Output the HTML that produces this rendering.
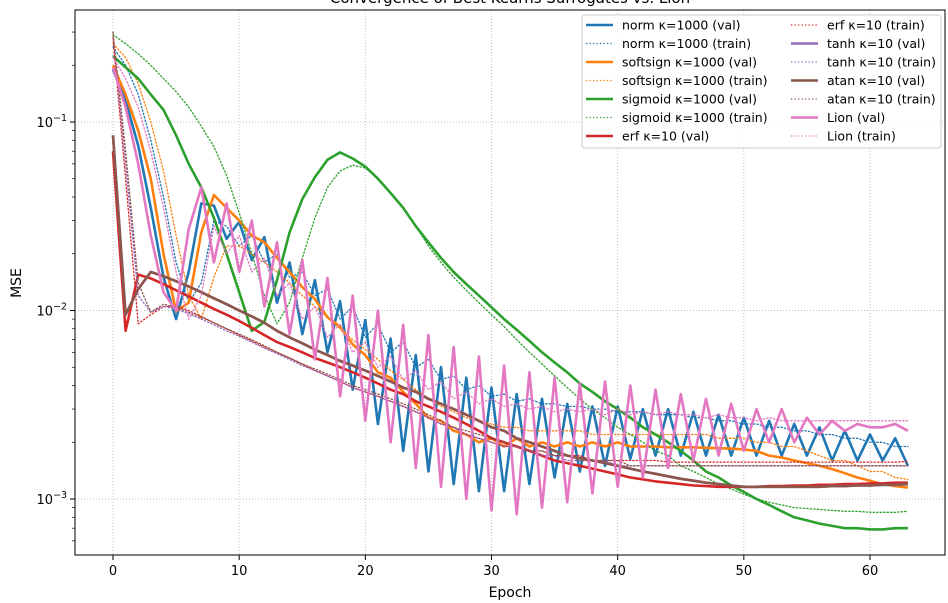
<!DOCTYPE html>
<html><head><meta charset="utf-8"><style>
html,body{margin:0;padding:0;background:#fff;}
svg{display:block;font-family:"DejaVu Sans","Liberation Sans",sans-serif;}
</style></head><body>
<svg id="chart" width="948" height="603" viewBox="0 0 948 603" xmlns="http://www.w3.org/2000/svg">
<text x="510" y="3" font-size="15" text-anchor="middle" fill="#000">Convergence of Best Kearns Surrogates vs. Lion</text>
<g id="grid"></g>
<g id="series"></g>
<rect x="75" y="10" width="870" height="545" fill="none" stroke="#000" stroke-width="1"/>
<g id="axes"></g>
<text x="510" y="597" font-size="14" text-anchor="middle">Epoch</text>
<text x="0" y="0" font-size="14" text-anchor="middle" transform="translate(21,283) rotate(-90)">MSE</text>
<g id="legend"></g>
</svg>
<script>
const epochs = Array.from({length:64},(_, i)=>i);
const xTicks = [0,10,20,30,40,50,60];
const yTickExps = [-1,-2,-3];
const normVal = [0.19,0.13,0.075,0.035,0.015,0.009,0.016,0.037,0.036,0.024,0.0295,0.0185,0.0245,0.011,0.018,0.0075,0.0145,0.006,0.0112,0.0038,0.0089,0.0025,0.0071,0.0018,0.0058,0.0014,0.005,0.0012,0.0044,0.0011,0.0039,0.0011,0.0036,0.0012,0.0034,0.0013,0.0032,0.0014,0.0031,0.0015,0.0031,0.00163,0.003,0.0017,0.003,0.0017,0.0029,0.0017,0.0028,0.0017,0.0027,0.0017,0.0026,0.0017,0.0025,0.0017,0.0024,0.0016,0.0023,0.0016,0.0022,0.0016,0.0021,0.0015];
const normTrain = [0.25,0.2,0.14,0.08,0.04,0.018,0.011,0.014,0.03,0.028,0.022,0.025,0.018,0.02,0.015,0.016,0.012,0.013,0.009,0.0105,0.0072,0.0085,0.006,0.0068,0.005,0.0055,0.0043,0.0045,0.0038,0.004,0.0035,0.0036,0.0033,0.0034,0.0032,0.0032,0.0031,0.0031,0.003,0.003,0.0029,0.0029,0.0029,0.0028,0.0028,0.0028,0.0027,0.0027,0.0026,0.0026,0.0025,0.0025,0.0024,0.0024,0.0023,0.0023,0.0022,0.0022,0.0021,0.0021,0.002,0.002,0.0019,0.0019];
const softsignVal = [0.2,0.14,0.09,0.05,0.02,0.0099,0.011,0.026,0.041,0.035,0.03,0.025,0.023,0.019,0.016,0.0133,0.0115,0.0092,0.0082,0.0066,0.0058,0.0047,0.0044,0.0037,0.0032,0.0027,0.0026,0.0023,0.0022,0.002,0.0021,0.0019,0.0021,0.0019,0.002,0.0019,0.002,0.0019,0.002,0.0019,0.002,0.0019,0.0019,0.0019,0.00188,0.00188,0.00188,0.00187,0.00186,0.00185,0.00183,0.0018,0.0017,0.00166,0.0016,0.00155,0.0015,0.00144,0.00137,0.0013,0.00125,0.0012,0.00117,0.00115];
const softsignTrain = [0.26,0.22,0.16,0.1,0.055,0.025,0.012,0.009,0.015,0.022,0.022,0.02,0.018,0.016,0.014,0.012,0.0105,0.0092,0.008,0.007,0.0062,0.0055,0.0048,0.0043,0.0038,0.0034,0.0031,0.0029,0.0027,0.0026,0.0025,0.0024,0.0024,0.0023,0.0023,0.0023,0.0023,0.0023,0.0022,0.0022,0.0022,0.0022,0.0022,0.0022,0.0022,0.0022,0.0022,0.0022,0.0021,0.0021,0.0021,0.002,0.002,0.0019,0.0019,0.0018,0.0017,0.0016,0.0016,0.0015,0.0014,0.0014,0.0013,0.00127];
const sigmoidVal = [0.224,0.195,0.17,0.14,0.116,0.085,0.06,0.045,0.031,0.02,0.0125,0.0078,0.0087,0.0145,0.026,0.039,0.051,0.063,0.069,0.064,0.058,0.05,0.042,0.035,0.028,0.023,0.019,0.016,0.0138,0.012,0.0104,0.009,0.0079,0.0069,0.006,0.0053,0.0047,0.0041,0.0037,0.0033,0.003,0.0027,0.0024,0.0022,0.002,0.0018,0.0016,0.0014,0.0013,0.00118,0.00109,0.001,0.00093,0.00086,0.0008,0.00077,0.00074,0.00072,0.0007,0.0007,0.00069,0.00069,0.0007,0.0007];
const sigmoidTrain = [0.29,0.26,0.23,0.2,0.17,0.145,0.12,0.095,0.074,0.052,0.033,0.02,0.012,0.0085,0.011,0.019,0.031,0.045,0.055,0.059,0.057,0.05,0.042,0.035,0.028,0.022,0.018,0.015,0.0128,0.011,0.0095,0.0082,0.007,0.006,0.0052,0.0045,0.0039,0.0034,0.003,0.0027,0.0024,0.0022,0.002,0.0018,0.0017,0.0015,0.0014,0.0013,0.0012,0.00113,0.00106,0.001,0.00096,0.00093,0.0009,0.00089,0.00088,0.00087,0.00086,0.00086,0.00085,0.00085,0.00085,0.00086];
const erfVal = [0.07,0.0078,0.0155,0.0148,0.0138,0.0128,0.0119,0.011,0.0102,0.0095,0.0088,0.0081,0.0074,0.0068,0.0064,0.006,0.0056,0.0053,0.005,0.0047,0.0044,0.0041,0.0038,0.0036,0.0033,0.0031,0.0029,0.0027,0.0025,0.0023,0.0021,0.002,0.0019,0.0018,0.0017,0.0016,0.00155,0.0015,0.00145,0.0014,0.00135,0.0013,0.00127,0.00124,0.00122,0.0012,0.00118,0.00117,0.00116,0.00116,0.00116,0.00116,0.00117,0.00117,0.00118,0.00118,0.00119,0.00119,0.0012,0.0012,0.00121,0.00121,0.00122,0.00122];
const erfTrain = [0.28,0.05,0.0085,0.0095,0.0105,0.0105,0.01,0.0093,0.0086,0.008,0.0074,0.0069,0.0064,0.006,0.0056,0.0052,0.0048,0.0045,0.0042,0.0039,0.0037,0.0035,0.0033,0.0031,0.0029,0.0027,0.0025,0.0024,0.0022,0.0021,0.002,0.0019,0.0019,0.0018,0.0018,0.0017,0.0017,0.0017,0.0016,0.0016,0.0016,0.0016,0.0016,0.0016,0.00157,0.00157,0.00157,0.00157,0.00157,0.00157,0.00157,0.00157,0.00157,0.00157,0.00157,0.00157,0.00157,0.00157,0.00157,0.00157,0.00157,0.00157,0.00157,0.00158];
const tanhVal = [0.085,0.0095,0.013,0.016,0.0152,0.0143,0.0134,0.0125,0.0116,0.0108,0.01,0.0093,0.0086,0.0078,0.0072,0.0067,0.0062,0.0058,0.0054,0.0051,0.0048,0.0045,0.0042,0.0039,0.0037,0.0034,0.0032,0.003,0.0028,0.0026,0.0024,0.0023,0.0021,0.002,0.0019,0.0018,0.0017,0.00165,0.0016,0.00155,0.0015,0.00145,0.0014,0.00136,0.00132,0.00128,0.00125,0.00122,0.0012,0.00118,0.00116,0.00116,0.00116,0.00116,0.00116,0.00116,0.00116,0.00117,0.00117,0.00118,0.00118,0.00119,0.00119,0.0012];
const tanhTrain = [0.3,0.06,0.012,0.0098,0.0105,0.0102,0.0096,0.009,0.0084,0.0078,0.0073,0.0068,0.0063,0.0059,0.0055,0.0051,0.0048,0.0045,0.0042,0.0039,0.0037,0.0035,0.0033,0.0031,0.0029,0.0027,0.0025,0.0024,0.0022,0.0021,0.002,0.0019,0.0019,0.0018,0.0017,0.0017,0.0016,0.0016,0.0016,0.0016,0.0015,0.0015,0.0015,0.0015,0.0015,0.0015,0.0015,0.0015,0.0015,0.0015,0.0015,0.0015,0.0015,0.0015,0.0015,0.0015,0.0015,0.0015,0.0015,0.0015,0.0015,0.0015,0.0015,0.0015];
const atanVal = [0.085,0.0095,0.013,0.016,0.0152,0.0143,0.0134,0.0125,0.0116,0.0108,0.01,0.0093,0.0086,0.0078,0.0072,0.0067,0.0062,0.0058,0.0054,0.0051,0.0048,0.0045,0.0042,0.0039,0.0037,0.0034,0.0032,0.003,0.0028,0.0026,0.0024,0.0023,0.0021,0.002,0.0019,0.0018,0.0017,0.00165,0.0016,0.00155,0.0015,0.00145,0.0014,0.00136,0.00132,0.00128,0.00125,0.00122,0.0012,0.00118,0.00116,0.00116,0.00116,0.00116,0.00116,0.00116,0.00116,0.00117,0.00117,0.00118,0.00118,0.00119,0.00119,0.0012];
const atanTrain = [0.3,0.07,0.014,0.0098,0.0108,0.0104,0.0098,0.0092,0.0086,0.008,0.0075,0.007,0.0065,0.006,0.0056,0.0052,0.0049,0.0046,0.0043,0.004,0.0038,0.0036,0.0034,0.0032,0.003,0.0028,0.0026,0.0024,0.0023,0.0022,0.0021,0.002,0.0019,0.0018,0.0018,0.0017,0.0017,0.0016,0.0016,0.0016,0.0016,0.0015,0.0015,0.0015,0.0015,0.0015,0.0015,0.0015,0.0015,0.0015,0.0015,0.0015,0.0015,0.0015,0.0015,0.0015,0.0015,0.0015,0.0015,0.0015,0.0015,0.0015,0.0015,0.0015];
const lionVal = [0.195,0.12,0.06,0.025,0.0125,0.01,0.027,0.045,0.018,0.037,0.016,0.03,0.0105,0.023,0.0075,0.0185,0.0055,0.0149,0.0035,0.012,0.0026,0.01,0.002,0.0084,0.00146,0.0074,0.00116,0.0064,0.001,0.0057,0.00087,0.0051,0.00083,0.0047,0.0009,0.0044,0.00096,0.0041,0.00107,0.0042,0.00116,0.004,0.0013,0.0038,0.00146,0.0036,0.0016,0.0034,0.0017,0.0032,0.0018,0.003,0.002,0.003,0.002,0.0027,0.0022,0.0026,0.0023,0.0025,0.0024,0.0024,0.0025,0.0023];
const lionTrain = [0.22,0.17,0.12,0.07,0.035,0.016,0.009,0.012,0.028,0.02,0.025,0.016,0.019,0.012,0.014,0.009,0.0105,0.0072,0.0085,0.006,0.0068,0.005,0.0057,0.0043,0.0048,0.0038,0.0042,0.0034,0.0037,0.0032,0.0034,0.0031,0.0032,0.003,0.0031,0.0029,0.003,0.0029,0.003,0.0028,0.003,0.0028,0.0029,0.0028,0.0029,0.0028,0.0028,0.0027,0.0028,0.0027,0.0027,0.0026,0.0027,0.0026,0.0026,0.0026,0.0026,0.0026,0.0026,0.0026,0.0026,0.0026,0.0026,0.0026];

const NS="http://www.w3.org/2000/svg";
const L=75,R=945,T=10,B=555;
function xs(e){return 113+(e-0)*(757/60);}
function ys(v){return 122-(Math.log10(v)+1)*188.5;}
function mk(tag,attrs,parent){const el=document.createElementNS(NS,tag);for(const k in attrs)el.setAttribute(k,attrs[k]);parent.appendChild(el);return el;}

const grid=document.getElementById('grid'), axes=document.getElementById('axes');
xTicks.forEach(t=>{
  const x=xs(t);
  const g=mk('line',{x1:x,x2:x,y1:T,y2:B,stroke:'#b0b0b0','stroke-width':0.8,'stroke-dasharray':'1,2'},grid);
  
  
  const tk=mk('line',{x1:x,x2:x,y1:B,y2:B+5,stroke:'#000','stroke-width':1},axes);
  
  
  const lb=mk('text',{x:x,y:B+20,'font-size':13,'text-anchor':'middle'},axes);
  lb.textContent=String(t);
  
  
});
yTickExps.forEach(p=>{
  const y=ys(Math.pow(10,p));
  const g=mk('line',{x1:L,x2:R,y1:y,y2:y,stroke:'#b0b0b0','stroke-width':0.8,'stroke-dasharray':'1,2'},grid);
  
  
  const tk=mk('line',{x1:L-5,x2:L,y1:y,y2:y,stroke:'#000','stroke-width':1},axes);
  
  
  const lb=mk('text',{x:L-8,y:y+5,'font-size':13,'text-anchor':'end'},axes);
  lb.innerHTML='10<tspan dy="-6" font-size="9.5">\u2212'+(-p)+'</tspan>';
  
  
});
for(let p=-4;p<=0;p++){for(let m=2;m<=9;m++){const v=m*Math.pow(10,p);const y=ys(v);if(y<T||y>B)continue;
  const tk=mk('line',{x1:L-3,x2:L,y1:y,y2:y,stroke:'#000','stroke-width':0.7},axes);
  
  }}

const seriesDefs=[
 ['norm κ=1000 (val)',normVal,'#1f77b4',false,'norm-val'],
 ['norm κ=1000 (train)',normTrain,'#1f77b4',true,'norm-train'],
 ['softsign κ=1000 (val)',softsignVal,'#ff7f0e',false,'softsign-val'],
 ['softsign κ=1000 (train)',softsignTrain,'#ff7f0e',true,'softsign-train'],
 ['sigmoid κ=1000 (val)',sigmoidVal,'#2ca02c',false,'sigmoid-val'],
 ['sigmoid κ=1000 (train)',sigmoidTrain,'#2ca02c',true,'sigmoid-train'],
 ['erf κ=10 (val)',erfVal,'#d62728',false,'erf-val'],
 ['erf κ=10 (train)',erfTrain,'#d62728',true,'erf-train'],
 ['tanh κ=10 (val)',tanhVal,'#9467bd',false,'tanh-val'],
 ['tanh κ=10 (train)',tanhTrain,'#9467bd',true,'tanh-train'],
 ['atan κ=10 (val)',atanVal,'#8c564b',false,'atan-val'],
 ['atan κ=10 (train)',atanTrain,'#8c564b',true,'atan-train'],
 ['Lion (val)',lionVal,'#e377c2',false,'lion-val'],
 ['Lion (train)',lionTrain,'#e377c2',true,'lion-train']
];
const sg=document.getElementById('series');
const clip=mk('clipPath',{id:'pc'},sg);mk('rect',{x:L,y:T,width:R-L,height:B-T},clip);
seriesDefs.forEach(d=>{
  const pts=d[1].map((v,i)=>xs(epochs[i]).toFixed(1)+','+ys(v).toFixed(1)).join(' ');
  const a={points:pts,fill:'none',stroke:d[2],'stroke-width':d[3]?1.3:2.6,'stroke-linejoin':'round','clip-path':'url(#pc)'};
  if(d[3]){a['stroke-dasharray']='1.3,2.2';a['stroke-linecap']='round';}
  const pl=mk('polyline',a,sg);
  
  
});

const lg=document.getElementById('legend');
const box=mk('rect',{x:582,y:15,width:359,height:133,rx:3,fill:'#fff','fill-opacity':0.85,stroke:'#ccc','stroke-width':1},lg);


seriesDefs.forEach((d,i)=>{
  const col=i<7?0:1,row=i%7;
  const x0=col?791:586,y=25+row*18.5;
  const g=mk('g',{},lg);
  
  
  const a={x1:x0,x2:x0+27,y1:y,y2:y,stroke:d[2],'stroke-width':d[3]?1.3:2.6};
  if(d[3]){a['stroke-dasharray']='1.3,2.2';}
  mk('line',a,g);
  const t=mk('text',{x:x0+36,y:y+4.5,'font-size':12.5},g);
  t.textContent=d[0];
});
</script>
</body></html>
